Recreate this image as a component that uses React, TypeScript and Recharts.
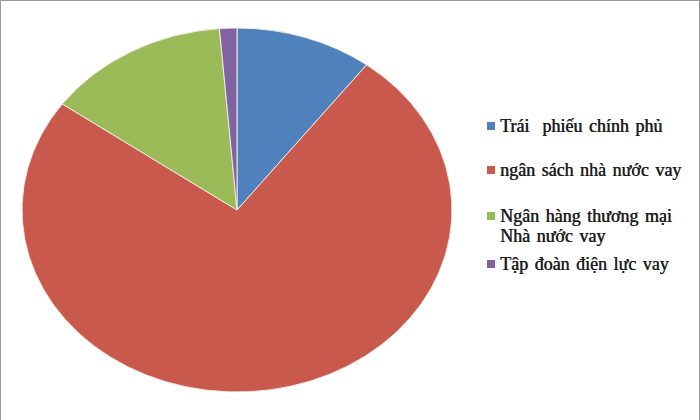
import { PieChart, Pie, Cell, Sector, Legend } from 'recharts';

const categories = [
  'Trái phiếu chính phủ',
  'ngân sách nhà nước vay',
  'Ngân hàng thương mại Nhà nước vay',
  'Tập đoàn điện lực vay'
];
const legendLines = [
  ['Trái  phiếu chính phủ'],
  ['ngân sách nhà nước vay'],
  ['Ngân hàng thương mại', 'Nhà nước vay'],
  ['Tập đoàn điện lực vay']
];
const shares = [10.3, 74.6, 13.8, 1.3];
const colors = ['#4F81BD', '#C9594D', '#9BBB59', '#8064A2'];

const data = categories.map((name, i) => ({ name, value: shares[i] }));

// squash the round pie into the flat ellipse of the original
const SQUASH = 182 / 215;

function EllipseSector(props: any) {
  const { cy } = props;
  return (
    <g transform={`translate(0, ${cy * (1 - SQUASH)}) scale(1, ${SQUASH})`}>
      <Sector {...props} />
    </g>
  );
}

const itemGaps = [24, 26, 8, 0];

function LegendBox() {
  return (
    <div
      style={{
        fontFamily: '"Liberation Serif", "Times New Roman", serif',
        fontSize: 18,
        color: '#1e1e1e',
        wordSpacing: 2,
        textShadow: '0.4px 0 0 #1e1e1e'
      }}
    >
      {legendLines.map((lines, i) => (
        <div key={i} style={{ display: 'flex', alignItems: 'flex-start', marginBottom: itemGaps[i] }}>
          <span
            style={{
              width: 8,
              height: 8,
              background: colors[i],
              marginTop: 6,
              marginRight: 5,
              flexShrink: 0
            }}
          />
          <div style={{ lineHeight: '20px', whiteSpace: 'pre' }}>
            {lines.map((l, j) => (
              <div key={j}>{l}</div>
            ))}
          </div>
        </div>
      ))}
    </div>
  );
}

export default function App() {
  return (
    <div
      style={{
        width: 700,
        height: 420,
        position: 'relative',
        boxSizing: 'border-box',
        borderTop: '1px solid #9a9a9a',
        borderLeft: '1px solid #9a9a9a',
        borderRight: '1px solid #9a9a9a',
        background: '#fff'
      }}
    >
      <style>{'body{margin:0}'}</style>
      <PieChart
        width={700}
        height={420}
        margin={{ top: 0, right: 0, bottom: 0, left: 0 }}
        style={{ position: 'absolute', left: -1, top: -1 }}
      >
        <Pie
          data={data}
          dataKey="value"
          nameKey="name"
          cx={237}
          cy={210}
          outerRadius={215}
          startAngle={90}
          endAngle={-270}
          stroke="#f4efe6"
          strokeWidth={1}
          shape={EllipseSector}
          isAnimationActive={false}
        >
          {data.map((d, i) => (
            <Cell key={d.name} fill={colors[i]} />
          ))}
        </Pie>
        <Legend
          layout="vertical"
          content={() => <LegendBox />}
          wrapperStyle={{ position: 'absolute', left: 487, top: 116, width: 210 }}
        />
      </PieChart>
    </div>
  );
}
